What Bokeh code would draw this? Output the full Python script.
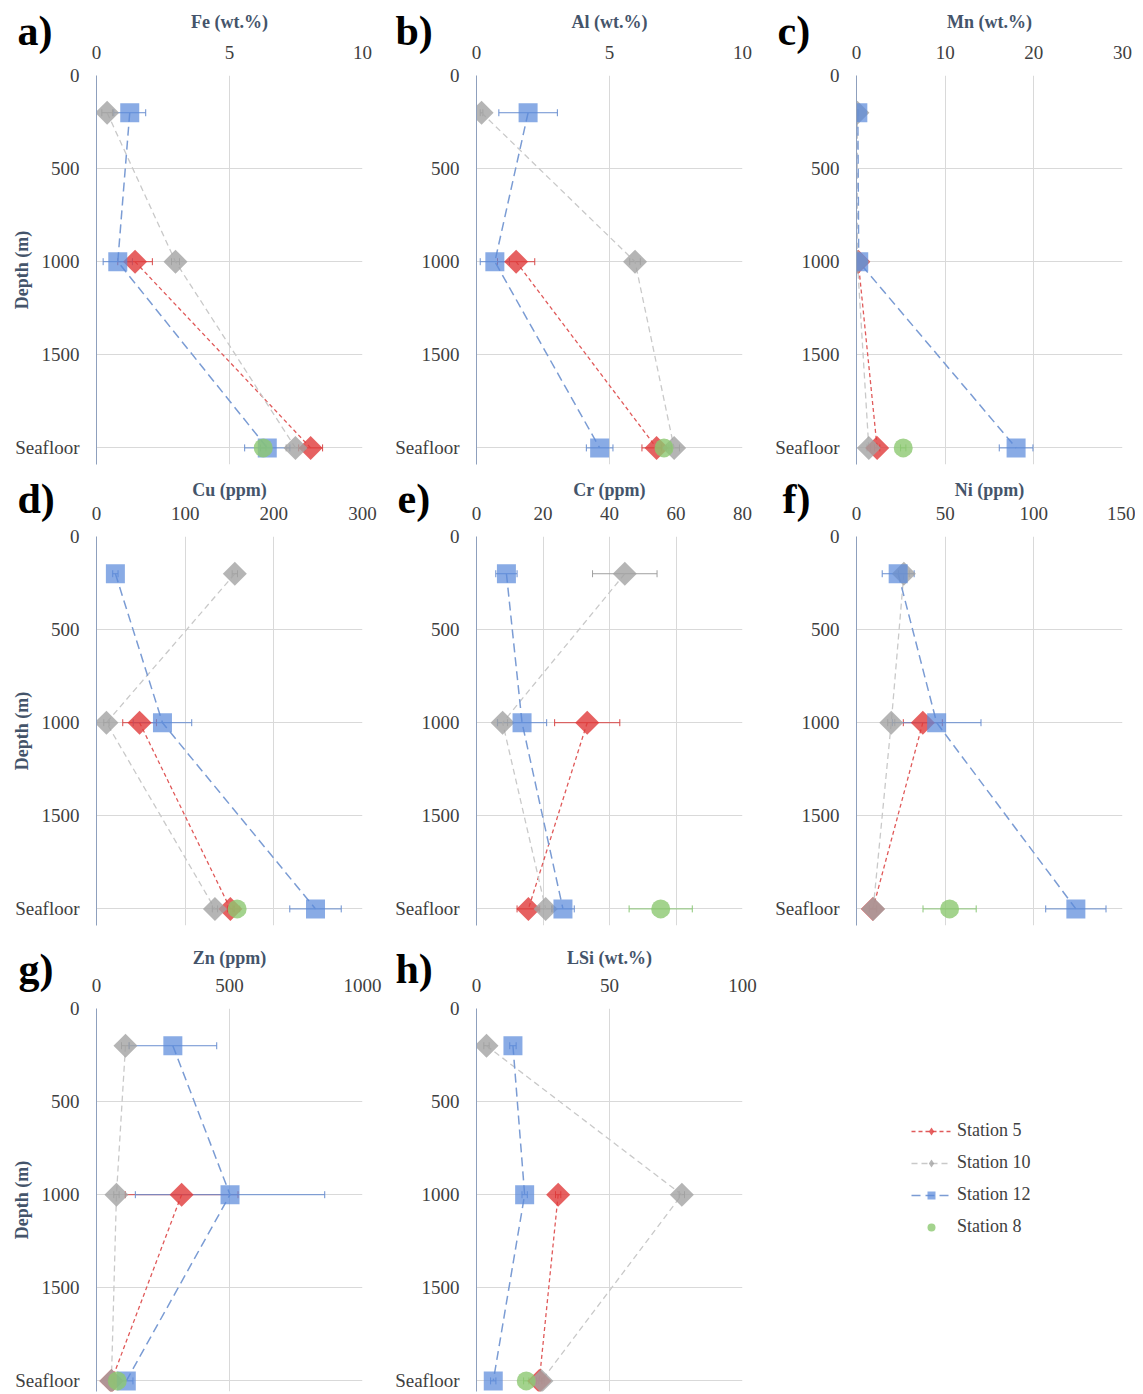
import math
from bokeh.plotting import figure
from bokeh.models import (Range1d, FixedTicker, Whisker, TeeHead, ColumnDataSource,
                          Legend, LegendItem)
from bokeh.layouts import column, row
from bokeh.embed import file_html
from bokeh.resources import INLINE

# ---------------- data ----------------
depth_st5 = [1000, 2000]
depth_st10 = [200, 1000, 2000]
depth_st12 = [200, 1000, 2000]
depth_st8 = [2000]
depth_ticks = [0, 500, 1000, 1500, 2000]
depth_tick_labels = ["0", "500", "1000", "1500", "Seafloor"]
station_names = ["Station 5", "Station 10", "Station 12", "Station 8"]

# Fe (wt.%)
fe_st5 = [1.45, 8.05];        fe_st5_err = [0.65, 0.45]
fe_st10 = [0.4, 2.97, 7.48];  fe_st10_err = [0.2, 0.15, 0.35]
fe_st12 = [1.25, 0.8, 6.42];  fe_st12_err = [0.6, 0.55, 0.85]
fe_st8 = [6.27];              fe_st8_err = [0.1]
# Al (wt.%)
al_st5 = [1.49, 6.77];        al_st5_err = [0.7, 0.55]
al_st10 = [0.19, 5.96, 7.43]; al_st10_err = [0.05, 0.2, 0.2]
al_st12 = [1.94, 0.69, 4.63]; al_st12_err = [1.1, 0.55, 0.5]
al_st8 = [7.05];              al_st8_err = [0.1]
# Mn (wt.%)
mn_st5 = [0.2, 2.33];         mn_st5_err = [0.1, 0.3]
mn_st10 = [0.1, 0.1, 1.39];   mn_st10_err = [0.05, 0.05, 0.2]
mn_st12 = [0.15, 0.25, 18.0]; mn_st12_err = [0.1, 0.1, 1.9]
mn_st8 = [5.27];              mn_st8_err = [0.3]
# Cu (ppm)
cu_st5 = [48.6, 151];         cu_st5_err = [19, 3]
cu_st10 = [156, 11.2, 133.6]; cu_st10_err = [3, 3, 3]
cu_st12 = [21.3, 74.4, 247];  cu_st12_err = [3, 33, 29]
cu_st8 = [158.6];             cu_st8_err = [3]
# Cr (ppm)
cr_st5 = [33.3, 15.6];        cr_st5_err = [9.8, 3.4]
cr_st10 = [44.6, 7.85, 20.8]; cr_st10_err = [9.7, 1.5, 2.0]
cr_st12 = [9.0, 13.7, 26.0];  cr_st12_err = [3.2, 7.4, 3.4]
cr_st8 = [55.4];              cr_st8_err = [9.5]
# Ni (ppm)
ni_st5 = [37.4, 9.2];         ni_st5_err = [11, 2]
ni_st10 = [26.7, 19.6, 9.4];  ni_st10_err = [3, 2, 2]
ni_st12 = [23.5, 45.2, 123.7]; ni_st12_err = [9, 25, 17]
ni_st8 = [52.5];              ni_st8_err = [15]
# Zn (ppm)
zn_st5 = [320, 56];           zn_st5_err = [212, 10]
zn_st10 = [109, 75, 56];      zn_st10_err = [15, 10, 10]
zn_st12 = [287, 502, 112];    zn_st12_err = [165, 356, 25]
zn_st8 = [78];                zn_st8_err = [10]
# LSi (wt.%)
lsi_st5 = [30.7, 23.6];       lsi_st5_err = [1.0, 1.0]
lsi_st10 = [3.76, 77.2, 24.4]; lsi_st10_err = [1.0, 1.0, 1.0]
lsi_st12 = [13.7, 18.1, 6.3]; lsi_st12_err = [1.2, 1.0, 1.0]
lsi_st8 = [18.7];             lsi_st8_err = [1.0]

panels = [
    ("a)", "Fe (wt.%)", 10, [0, 5, 10],
     [(fe_st5, fe_st5_err), (fe_st10, fe_st10_err), (fe_st12, fe_st12_err), (fe_st8, fe_st8_err)]),
    ("b)", "Al (wt.%)", 10, [0, 5, 10],
     [(al_st5, al_st5_err), (al_st10, al_st10_err), (al_st12, al_st12_err), (al_st8, al_st8_err)]),
    ("c)", "Mn (wt.%)", 30, [0, 10, 20, 30],
     [(mn_st5, mn_st5_err), (mn_st10, mn_st10_err), (mn_st12, mn_st12_err), (mn_st8, mn_st8_err)]),
    ("d)", "Cu (ppm)", 300, [0, 100, 200, 300],
     [(cu_st5, cu_st5_err), (cu_st10, cu_st10_err), (cu_st12, cu_st12_err), (cu_st8, cu_st8_err)]),
    ("e)", "Cr (ppm)", 80, [0, 20, 40, 60, 80],
     [(cr_st5, cr_st5_err), (cr_st10, cr_st10_err), (cr_st12, cr_st12_err), (cr_st8, cr_st8_err)]),
    ("f)", "Ni (ppm)", 150, [0, 50, 100, 150],
     [(ni_st5, ni_st5_err), (ni_st10, ni_st10_err), (ni_st12, ni_st12_err), (ni_st8, ni_st8_err)]),
    ("g)", "Zn (ppm)", 1000, [0, 500, 1000],
     [(zn_st5, zn_st5_err), (zn_st10, zn_st10_err), (zn_st12, zn_st12_err), (zn_st8, zn_st8_err)]),
    ("h)", "LSi (wt.%)", 100, [0, 50, 100],
     [(lsi_st5, lsi_st5_err), (lsi_st10, lsi_st10_err), (lsi_st12, lsi_st12_err), (lsi_st8, lsi_st8_err)]),
]
station_depths = [depth_st5, depth_st10, depth_st12, depth_st8]

# ---------------- styles ----------------
FONT = "Liberation Serif"
TICK_COLOR = "#404040"
TITLE_COLOR = "#44546a"
styles = [
    dict(marker="square", angle=math.pi / 4, size=17, fill="#e03a3a", alpha=0.8,
         line="#e05a5a", dash="4 3", lw=1.3, err="#d84848"),
    dict(marker="square", angle=math.pi / 4, size=17, fill="#a3a3a3", alpha=0.8,
         line="#c9c9c9", dash="6 4", lw=1.3, err="#a0a0a0"),
    dict(marker="square", angle=0.0, size=19, fill="#5b8bdb", alpha=0.72,
         line="#7b9cd4", dash="9 5", lw=1.5, err="#6a8fd0"),
    dict(marker="circle", angle=0.0, size=19, fill="#8cc870", alpha=0.8,
         line=None, dash=None, lw=0, err="#8cc878"),
]
legend_markers = ["diamond", "diamond", "square", "circle"]
legend_sizes = [18, 18, 13, 8]

PX_PER_2000 = 372.4
FRAME_W = 266
col_widths = [388, 380, 367]
col_frame_left = [96, 88, 88]
row_heights = [469, 462, 462]
row_frame_top = [75, 67, 77]
row_frame_h = [389, 389, 383]
row_title_standoff = [11, 4, 8]
row_letter_standoff = [-90, -90, -94]
letter_x = [17, 7, 9, 17, 9, 14, 18, 7]


def make_panel(i):
    letter, title, xmax, xticks, series = panels[i]
    r, c = divmod(i, 3)
    fw, fh = col_widths[c], row_heights[r]
    fl, ft = col_frame_left[c], row_frame_top[r]
    frame_h = row_frame_h[r]
    y_end = 2000 * frame_h / PX_PER_2000
    p = figure(width=fw, height=fh, x_range=Range1d(0, xmax), y_range=Range1d(y_end, 0),
               x_axis_location="above", output_backend="svg", toolbar_location=None,
               min_border_left=fl, min_border_right=fw - fl - FRAME_W,
               min_border_top=ft, min_border_bottom=fh - ft - frame_h)
    p.outline_line_color = None
    p.background_fill_color = "white"

    # panel letter as the figure title (side renderer, so it is not clipped to the frame)
    p.title.text = letter
    p.title.align = "left"
    p.title.vertical_align = "bottom"
    p.title.offset = letter_x[i] - fl
    p.title.standoff = row_letter_standoff[r]
    p.title.text_font = FONT
    p.title.text_font_size = "42px"
    p.title.text_font_style = "bold"
    p.title.text_color = "black"

    p.xaxis.ticker = FixedTicker(ticks=xticks)
    p.yaxis.ticker = FixedTicker(ticks=depth_ticks)
    p.yaxis.major_label_overrides = {t: l for t, l in zip(depth_ticks, depth_tick_labels)}
    for ax in (p.xaxis[0], p.yaxis[0]):
        ax.major_tick_line_color = None
        ax.minor_tick_line_color = None
        ax.major_tick_out = 0
        ax.major_tick_in = 0
        ax.minor_tick_out = 0
        ax.minor_tick_in = 0
        ax.major_label_text_font = FONT
        ax.major_label_text_font_size = "19px"
        ax.major_label_text_color = TICK_COLOR
    p.xaxis.axis_line_color = None
    p.yaxis.axis_line_color = "#8fa0bd"
    p.xaxis.major_label_standoff = 17
    p.yaxis.major_label_standoff = 17
    p.xaxis.axis_label = title
    p.xaxis.axis_label_text_font = FONT
    p.xaxis.axis_label_text_font_size = "18px"
    p.xaxis.axis_label_text_font_style = "bold"
    p.xaxis.axis_label_text_color = TITLE_COLOR
    p.xaxis.axis_label_standoff = row_title_standoff[r]
    if c == 0:
        p.yaxis.axis_label = "Depth (m)"
        p.yaxis.axis_label_text_font = FONT
        p.yaxis.axis_label_text_font_size = "18px"
        p.yaxis.axis_label_text_font_style = "bold"
        p.yaxis.axis_label_text_color = TITLE_COLOR
        p.yaxis.axis_label_standoff = -20
    p.xgrid.grid_line_color = "#d9d9d9"
    p.ygrid.grid_line_color = "#d9d9d9"

    # dashed profile lines
    for (vals, errs), dep, st in zip(series, station_depths, styles):
        if st["line"] is not None and len(vals) > 1:
            p.line(vals, dep, line_color=st["line"], line_width=st["lw"], line_dash=st["dash"])
    # markers + horizontal error bars
    for (vals, errs), dep, st in zip(series, station_depths, styles):
        src = ColumnDataSource(dict(x=vals, y=dep,
                                    lo=[v - e for v, e in zip(vals, errs)],
                                    hi=[v + e for v, e in zip(vals, errs)]))
        p.scatter("x", "y", source=src, marker=st["marker"], angle=st["angle"], size=st["size"],
                  fill_color=st["fill"], fill_alpha=st["alpha"], line_color=None)
        w = Whisker(source=src, base="y", lower="lo", upper="hi", dimension="width",
                    line_color=st["err"], line_width=1,
                    upper_head=TeeHead(size=7, line_color=st["err"], line_width=1),
                    lower_head=TeeHead(size=7, line_color=st["err"], line_width=1))
        p.add_layout(w)
    return p


figs = [make_panel(i) for i in range(8)]

# legend panel
pleg = figure(width=col_widths[2], height=row_heights[2], x_range=Range1d(0, 1), y_range=Range1d(0, 1),
              output_backend="svg", toolbar_location=None,
              min_border_left=0, min_border_right=0, min_border_top=0, min_border_bottom=0)
pleg.axis.visible = False
pleg.grid.visible = False
pleg.outline_line_color = None
items = []
for name, st, mk, sz in zip(station_names, styles, legend_markers, legend_sizes):
    rends = []
    if st["line"] is not None:
        rends.append(pleg.line([-5, -4], [-5, -4], line_color=st["line"], line_width=st["lw"],
                               line_dash=st["dash"]))
    rends.append(pleg.scatter([-5], [-5], marker=mk, size=sz,
                              fill_color=st["fill"], fill_alpha=st["alpha"], line_color=None))
    items.append(LegendItem(label=name, renderers=rends))
legend = Legend(items=items, location=(143, 154), glyph_width=40, glyph_height=20,
                label_height=20, spacing=11, padding=0, margin=0, border_line_color=None,
                background_fill_alpha=0, label_text_font=FONT, label_text_font_size="18px",
                label_text_color="#404040", label_standoff=6)
pleg.add_layout(legend)

layout = column(row(figs[0], figs[1], figs[2]),
                row(figs[3], figs[4], figs[5]),
                row(figs[6], figs[7], pleg))

with open("out.html", "w") as f:
    f.write(file_html(layout, INLINE))
